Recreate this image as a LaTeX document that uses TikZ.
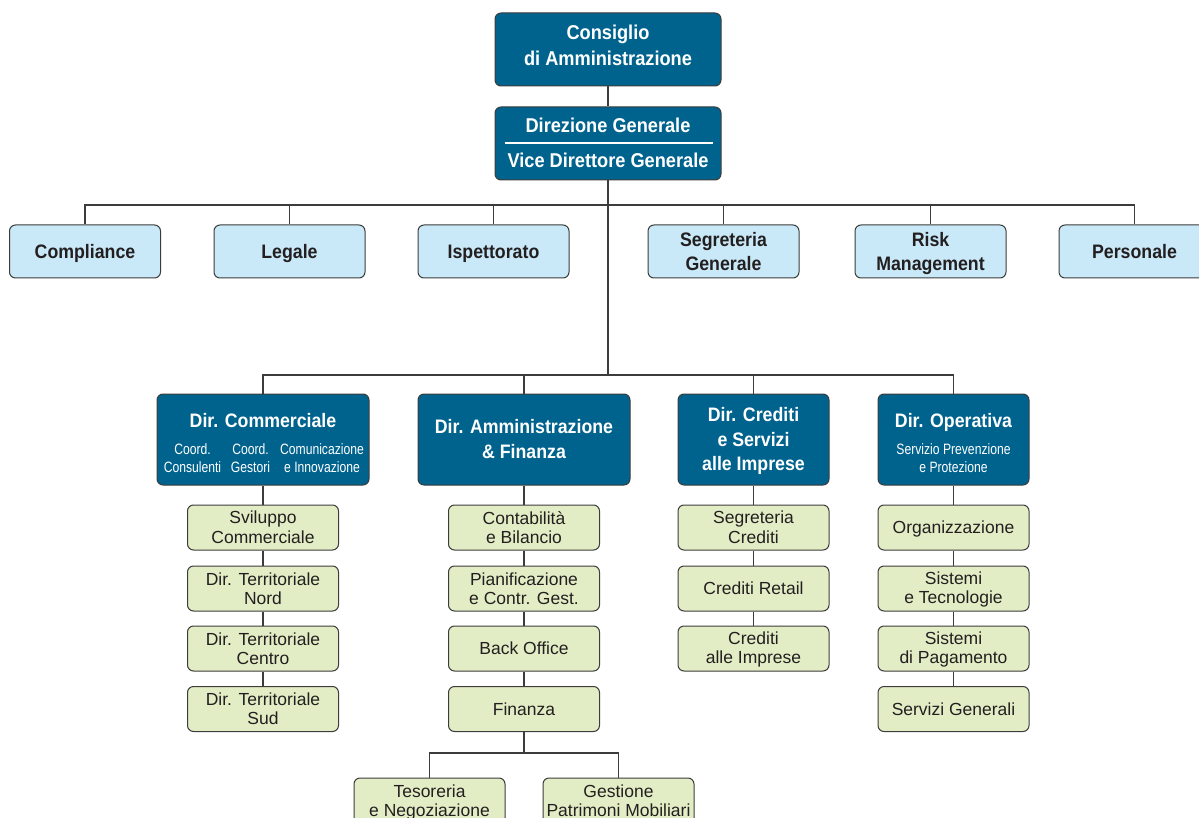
\documentclass[tikz,border=0pt]{standalone}
\usepackage{fontspec}
\setmainfont{Liberation Sans}
\newfontfamily\bcf[FakeStretch=0.91]{Liberation Sans}
\newfontfamily\scf[FakeStretch=0.81]{Liberation Sans}
% strut that centres the capital height on the line pitch
\newcommand\cs{\rule[-\dimexpr(\baselineskip-\fontcharht\font`\X)/2\relax]{0pt}{\baselineskip}}
\definecolor{teal}{RGB}{0,99,142}
\definecolor{lblue}{RGB}{201,233,248}
\definecolor{lgreen}{RGB}{227,237,197}
\definecolor{ink}{RGB}{35,31,32}
\definecolor{edge}{RGB}{60,60,60}
\tikzset{
  box/.style={rounded corners=6pt, draw=edge, line width=1pt, inner sep=0pt, align=center},
  topbox/.style={box, fill=teal, minimum width=226pt, minimum height=73pt},
  toptext/.style={inner sep=0pt, align=center, text=white, font=\bcf\bfseries\fontsize{20}{26.5}\selectfont},
  staffbox/.style={box, fill=lblue, text=ink, minimum width=151pt, minimum height=53pt,
    font=\bcf\bfseries\fontsize{19.5}{24}\selectfont},
  dirbox/.style={box, fill=teal, text=white, minimum height=91pt,
    font=\bcf\bfseries\fontsize{19.5}{24.5}\selectfont},
  dirtext/.style={inner sep=0pt, align=center, text=white, font=\bcf\bfseries\fontsize{19.5}{24.5}\selectfont},
  subtext/.style={inner sep=0pt, align=center, text=white, font=\scf\fontsize{15}{18.5}\selectfont},
  unitbox/.style={box, fill=lgreen, text=ink, minimum width=151pt, minimum height=45pt,
    font=\fontsize{17.5}{19}\selectfont},
  conn/.style={draw=edge, line width=1.1pt},
}
\begin{document}
\begin{tikzpicture}[x=1pt,y=-1pt]
\clip (0,0) rectangle (1199,818);
\useasboundingbox (0,0) rectangle (1199,818);
% top
\node[topbox] (cda) at (608,49.5) {};
\node[toptext] (cdat) at (608,45.5) {\cs Consiglio\\di Amministrazione\cs};
\node[topbox] (dg) at (608,143.5) {};
\node[toptext] (dgt1) at (608,126) {\cs Direzione Generale};
\node[toptext] (dgt2) at (608,161) {\cs Vice Direttore Generale};
\draw[white, line width=2pt] ([xshift=10pt]dg.west) -- ([xshift=-9pt]dg.east);
% staff
\node[staffbox] (compl) at (85,251.5) {\cs Compliance};
\node[staffbox] (leg) at (289.5,251.5) {\cs Legale};
\node[staffbox] (isp) at (493.5,251.5) {\cs Ispettorato};
\node[staffbox] (segg) at (723.5,251.5) {\cs Segreteria\\Generale\cs};
\node[staffbox] (risk) at (930.5,251.5) {\cs Risk\\Management\cs};
\node[staffbox] (pers) at (1134.5,251.5) {\cs Personale};
% directors
\node[dirbox, minimum width=212pt] (comm) at (263,439.5) {};
\node[dirtext] (commt) at (263,421) {\cs Dir. Commerciale};
\node[subtext] (cc1) at (192.5,458.5) {\cs Coord.\\Consulenti\cs};
\node[subtext] (cc2) at (250.5,458.5) {\cs Coord.\\Gestori\cs};
\node[subtext] (cc3) at (322,458.5) {\cs Comunicazione\\e Innovazione\cs};
\node[dirbox, minimum width=212pt] (amm) at (524,439.5) {\cs Dir. Amministrazione\\\& Finanza\cs};
\node[dirbox, minimum width=151pt] (cred) at (753.5,439.5) {\cs Dir. Crediti\\e Servizi\\alle Imprese\cs};
\node[dirbox, minimum width=151pt] (oper) at (953.5,439.5) {};
\node[dirtext] (opert) at (953.5,421) {\cs Dir. Operativa};
\node[subtext] (op1) at (953.5,458.5) {\cs Servizio Prevenzione\\e Protezione\cs};
% units
\node[unitbox] (c1) at (263,527.5) {\cs Sviluppo\\Commerciale\cs};
\node[unitbox] (c2) at (263,588.5) {\cs Dir. Territoriale\\Nord\cs};
\node[unitbox] (c3) at (263,648.5) {\cs Dir. Territoriale\\Centro\cs};
\node[unitbox] (c4) at (263,709) {\cs Dir. Territoriale\\Sud\cs};
\node[unitbox] (a1) at (524,527.5) {\cs Contabilità\\e Bilancio\cs};
\node[unitbox] (a2) at (524,588.5) {\cs Pianificazione\\e Contr. Gest.\cs};
\node[unitbox] (a3) at (524,648.5) {\cs Back Office};
\node[unitbox] (a4) at (524,709) {\cs Finanza};
\node[unitbox] (k1) at (753.5,527.5) {\cs Segreteria\\Crediti\cs};
\node[unitbox] (k2) at (753.5,588.5) {\cs Crediti Retail};
\node[unitbox] (k3) at (753.5,648.5) {\cs Crediti\\alle Imprese\cs};
\node[unitbox] (o1) at (953.5,527.5) {\cs Organizzazione};
\node[unitbox] (o2) at (953.5,588.5) {\cs Sistemi\\e Tecnologie\cs};
\node[unitbox] (o3) at (953.5,648.5) {\cs Sistemi\\di Pagamento\cs};
\node[unitbox] (o4) at (953.5,709) {\cs Servizi Generali};
\node[unitbox, minimum height=46pt] (teso) at (429.5,801) {\cs Tesoreria\\e Negoziazione\cs};
\node[unitbox, minimum height=46pt] (gest) at (618.5,801) {\cs Gestione\\Patrimoni Mobiliari\cs};
% bus coordinates
\coordinate (b1) at (608,205);
\coordinate (b2) at (608,375);
\coordinate (b3) at (524,753);
% connectors
\draw[conn] (cda) -- (dg);
\draw[conn] (dg.south) -- (b2);
\draw[conn] (compl.north) |- (b1) -| (pers.north);
\draw[conn] (leg.north) -- (leg.north |- b1);
\draw[conn] (isp.north) -- (isp.north |- b1);
\draw[conn] (segg.north) -- (segg.north |- b1);
\draw[conn] (risk.north) -- (risk.north |- b1);
\draw[conn] (comm.north) |- (b2) -| (oper.north);
\draw[conn] (amm.north) -- (amm.north |- b2);
\draw[conn] (cred.north) -- (cred.north |- b2);
\draw[conn] (comm) -- (c1); \draw[conn] (c1) -- (c2); \draw[conn] (c2) -- (c3); \draw[conn] (c3) -- (c4);
\draw[conn] (amm) -- (a1); \draw[conn] (a1) -- (a2); \draw[conn] (a2) -- (a3); \draw[conn] (a3) -- (a4);
\draw[conn] (cred) -- (k1); \draw[conn] (k1) -- (k2); \draw[conn] (k2) -- (k3);
\draw[conn] (oper) -- (o1); \draw[conn] (o1) -- (o2); \draw[conn] (o2) -- (o3); \draw[conn] (o3) -- (o4);
\draw[conn] (a4.south) -- (b3);
\draw[conn] (teso.north) |- (b3) -| (gest.north);
\end{tikzpicture}
\end{document}
